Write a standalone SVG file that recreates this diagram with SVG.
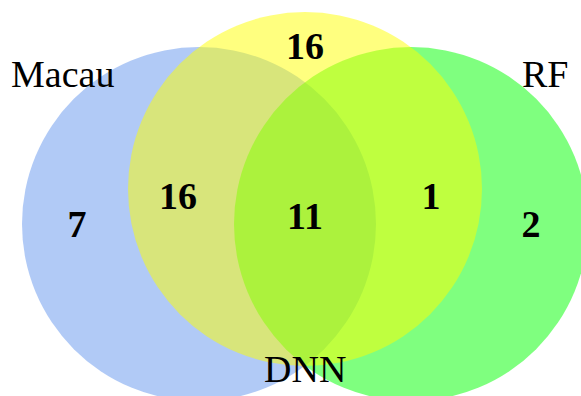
<svg xmlns="http://www.w3.org/2000/svg" width="581" height="396" viewBox="0 0 581 396">
<style>
.c{opacity:0.5}
</style>
<rect width="581" height="396" fill="#fff"/>
<g id="macau"><circle class="c" cx="199" cy="224" r="177" fill="#6495ED"/></g>
<g id="rf"><circle class="c" cx="411" cy="224" r="177" fill="#00FF00"/></g>
<g id="dnn"><circle class="c" cx="305" cy="189" r="177" fill="#FFFF00"/></g>
<g id="connectors"></g>
<g id="labels" font-family="Liberation Serif" font-size="38" fill="#000">
<text x="11" y="87">Macau</text>
<text x="522" y="87">RF</text>
<text x="264" y="382">DNN</text>
</g>
<g id="counts" font-family="Liberation Serif" font-size="38" font-weight="bold" text-anchor="middle" fill="#000">
<text x="305" y="59">16</text>
<text x="178" y="209">16</text>
<text x="305" y="229">11</text>
<text x="431" y="209">1</text>
<text x="77" y="237">7</text>
<text x="531" y="237">2</text>
</g>
</svg>
